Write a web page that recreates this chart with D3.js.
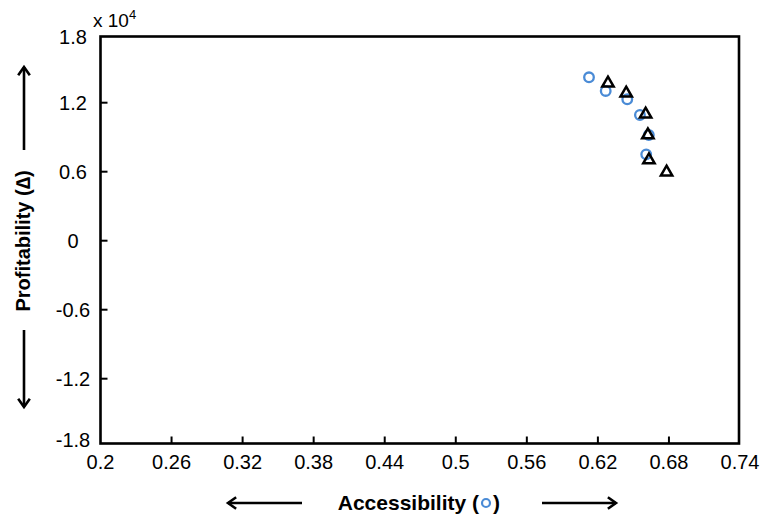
<!DOCTYPE html>
<html>
<head>
<meta charset="utf-8">
<script src="https://cdn.jsdelivr.net/npm/d3@7/dist/d3.min.js"></script>
<style>
  html, body { margin: 0; padding: 0; background: #fff; }
  svg { display: block; }
  text { font-family: "Liberation Sans", Arial, sans-serif; fill: #000; }
</style>
</head>
<body>
<svg id="chart" width="761" height="518"></svg>
<script>
// ---- data ----
const accessibilityX = [0.6125, 0.6266, 0.6448, 0.6555, 0.6630, 0.6608];
const accessibilityY = [14210, 13020, 12300, 10930, 9190, 7510];
const profitabilityX = [0.6285, 0.6439, 0.6603, 0.6622, 0.6631, 0.6780];
const profitabilityY = [13690, 12820, 10990, 9190, 7020, 5950];
const xTicks = [0.2, 0.26, 0.32, 0.38, 0.44, 0.5, 0.56, 0.62, 0.68, 0.74];
const xTickLabels = ["0.2", "0.26", "0.32", "0.38", "0.44", "0.5", "0.56", "0.62", "0.68", "0.74"];
const yTicks = [-18000, -12000, -6000, 0, 6000, 12000, 18000];
const yTickLabels = ["-1.8", "-1.2", "-0.6", "0", "0.6", "1.2", "1.8"];

const svg = d3.select("#chart");
const box = { left: 100.5, right: 739, top: 36.5, bottom: 443.5 };

const x = d3.scaleLinear().domain([0.2, 0.74]).range([100.5, 740]);
const y = d3.scaleLinear().domain([-18000, 18000]).range([447.7, 33.7]);

// plot box
svg.append("rect")
  .attr("x", box.left).attr("y", box.top)
  .attr("width", box.right - box.left).attr("height", box.bottom - box.top)
  .attr("fill", "none").attr("stroke", "#000").attr("stroke-width", 2.6);

// x ticks (inward)
svg.append("g").selectAll("line")
  .data(xTicks.filter(v => v > 0.2 && v < 0.74))
  .join("line")
  .attr("x1", d => x(d)).attr("x2", d => x(d))
  .attr("y1", box.bottom).attr("y2", box.bottom - 7)
  .attr("stroke", "#000").attr("stroke-width", 2);

// y ticks (inward)
svg.append("g").selectAll("line")
  .data(yTicks.filter(v => v > -18000 && v < 18000))
  .join("line")
  .attr("x1", box.left).attr("x2", box.left + 7)
  .attr("y1", d => y(d)).attr("y2", d => y(d))
  .attr("stroke", "#000").attr("stroke-width", 2);

// x tick labels
svg.append("g").selectAll("text")
  .data(xTicks)
  .join("text")
  .attr("x", d => x(d))
  .attr("y", 469)
  .attr("text-anchor", "middle")
  .style("font-size", "20px")
  .text((d, i) => xTickLabels[i]);

// y tick labels
svg.append("g").selectAll("text")
  .data(yTicks)
  .join("text")
  .attr("x", 73)
  .attr("y", d => Math.max(37, Math.min(440, y(d))))
  .attr("dy", "0.35em")
  .attr("text-anchor", "middle")
  .style("font-size", "20px")
  .text((d, i) => yTickLabels[i]);

// exponent
const ex = svg.append("text").attr("x", 93).attr("y", 27).style("font-size", "19px");
ex.append("tspan").text("x 10");
ex.append("tspan").attr("dy", -8).style("font-size", "13px").text("4");

// markers: circles (accessibility)
svg.append("g").selectAll("circle")
  .data(accessibilityX.map((v, i) => [v, accessibilityY[i]]))
  .join("circle")
  .attr("cx", d => x(d[0])).attr("cy", d => y(d[1]))
  .attr("r", 4.8)
  .attr("fill", "none").attr("stroke", "#4a8bd6").attr("stroke-width", 2.3);

// markers: triangles (profitability)
const tri = d3.symbol().type(d3.symbolTriangle).size(56);
svg.append("g").selectAll("path")
  .data(profitabilityX.map((v, i) => [v, profitabilityY[i]]))
  .join("path")
  .attr("d", tri)
  .attr("transform", d => `translate(${x(d[0])},${y(d[1])})`)
  .attr("fill", "none").attr("stroke", "#000").attr("stroke-width", 2.5)
  .attr("stroke-linejoin", "miter");

// axis titles
svg.append("text")
  .attr("transform", "translate(30,241) rotate(-90)")
  .attr("text-anchor", "middle")
  .style("font-size", "20px").style("font-weight", "bold")
  .text("Profitability (\u2206)");

svg.append("text")
  .attr("x", 479).attr("y", 510)
  .attr("text-anchor", "end")
  .style("font-size", "21px").style("font-weight", "bold")
  .text("Accessibility (");
svg.append("circle")
  .attr("cx", 486).attr("cy", 503).attr("r", 4)
  .attr("fill", "none").attr("stroke", "#4a8bd6").attr("stroke-width", 2.2);
svg.append("text")
  .attr("x", 493).attr("y", 510)
  .style("font-size", "21px").style("font-weight", "bold")
  .text(")");

// arrows
function arrow(x1, y1, x2, y2) {
  svg.append("line").attr("x1", x1).attr("y1", y1).attr("x2", x2).attr("y2", y2)
    .attr("stroke", "#000").attr("stroke-width", 2.6);
  const ang = Math.atan2(y2 - y1, x2 - x1);
  const L = 10, W = 0.62;
  const p1 = [x2 - L * Math.cos(ang - W), y2 - L * Math.sin(ang - W)];
  const p2 = [x2 - L * Math.cos(ang + W), y2 - L * Math.sin(ang + W)];
  svg.append("path")
    .attr("d", `M${p1[0]},${p1[1]}L${x2},${y2}L${p2[0]},${p2[1]}`)
    .attr("fill", "none").attr("stroke", "#000").attr("stroke-width", 2.6)
    .attr("stroke-linejoin", "miter");
}
arrow(24, 150, 24, 67);
arrow(24, 330, 24, 407);
arrow(302, 503, 228, 503);
arrow(542, 503, 616, 503);
</script>
</body>
</html>
